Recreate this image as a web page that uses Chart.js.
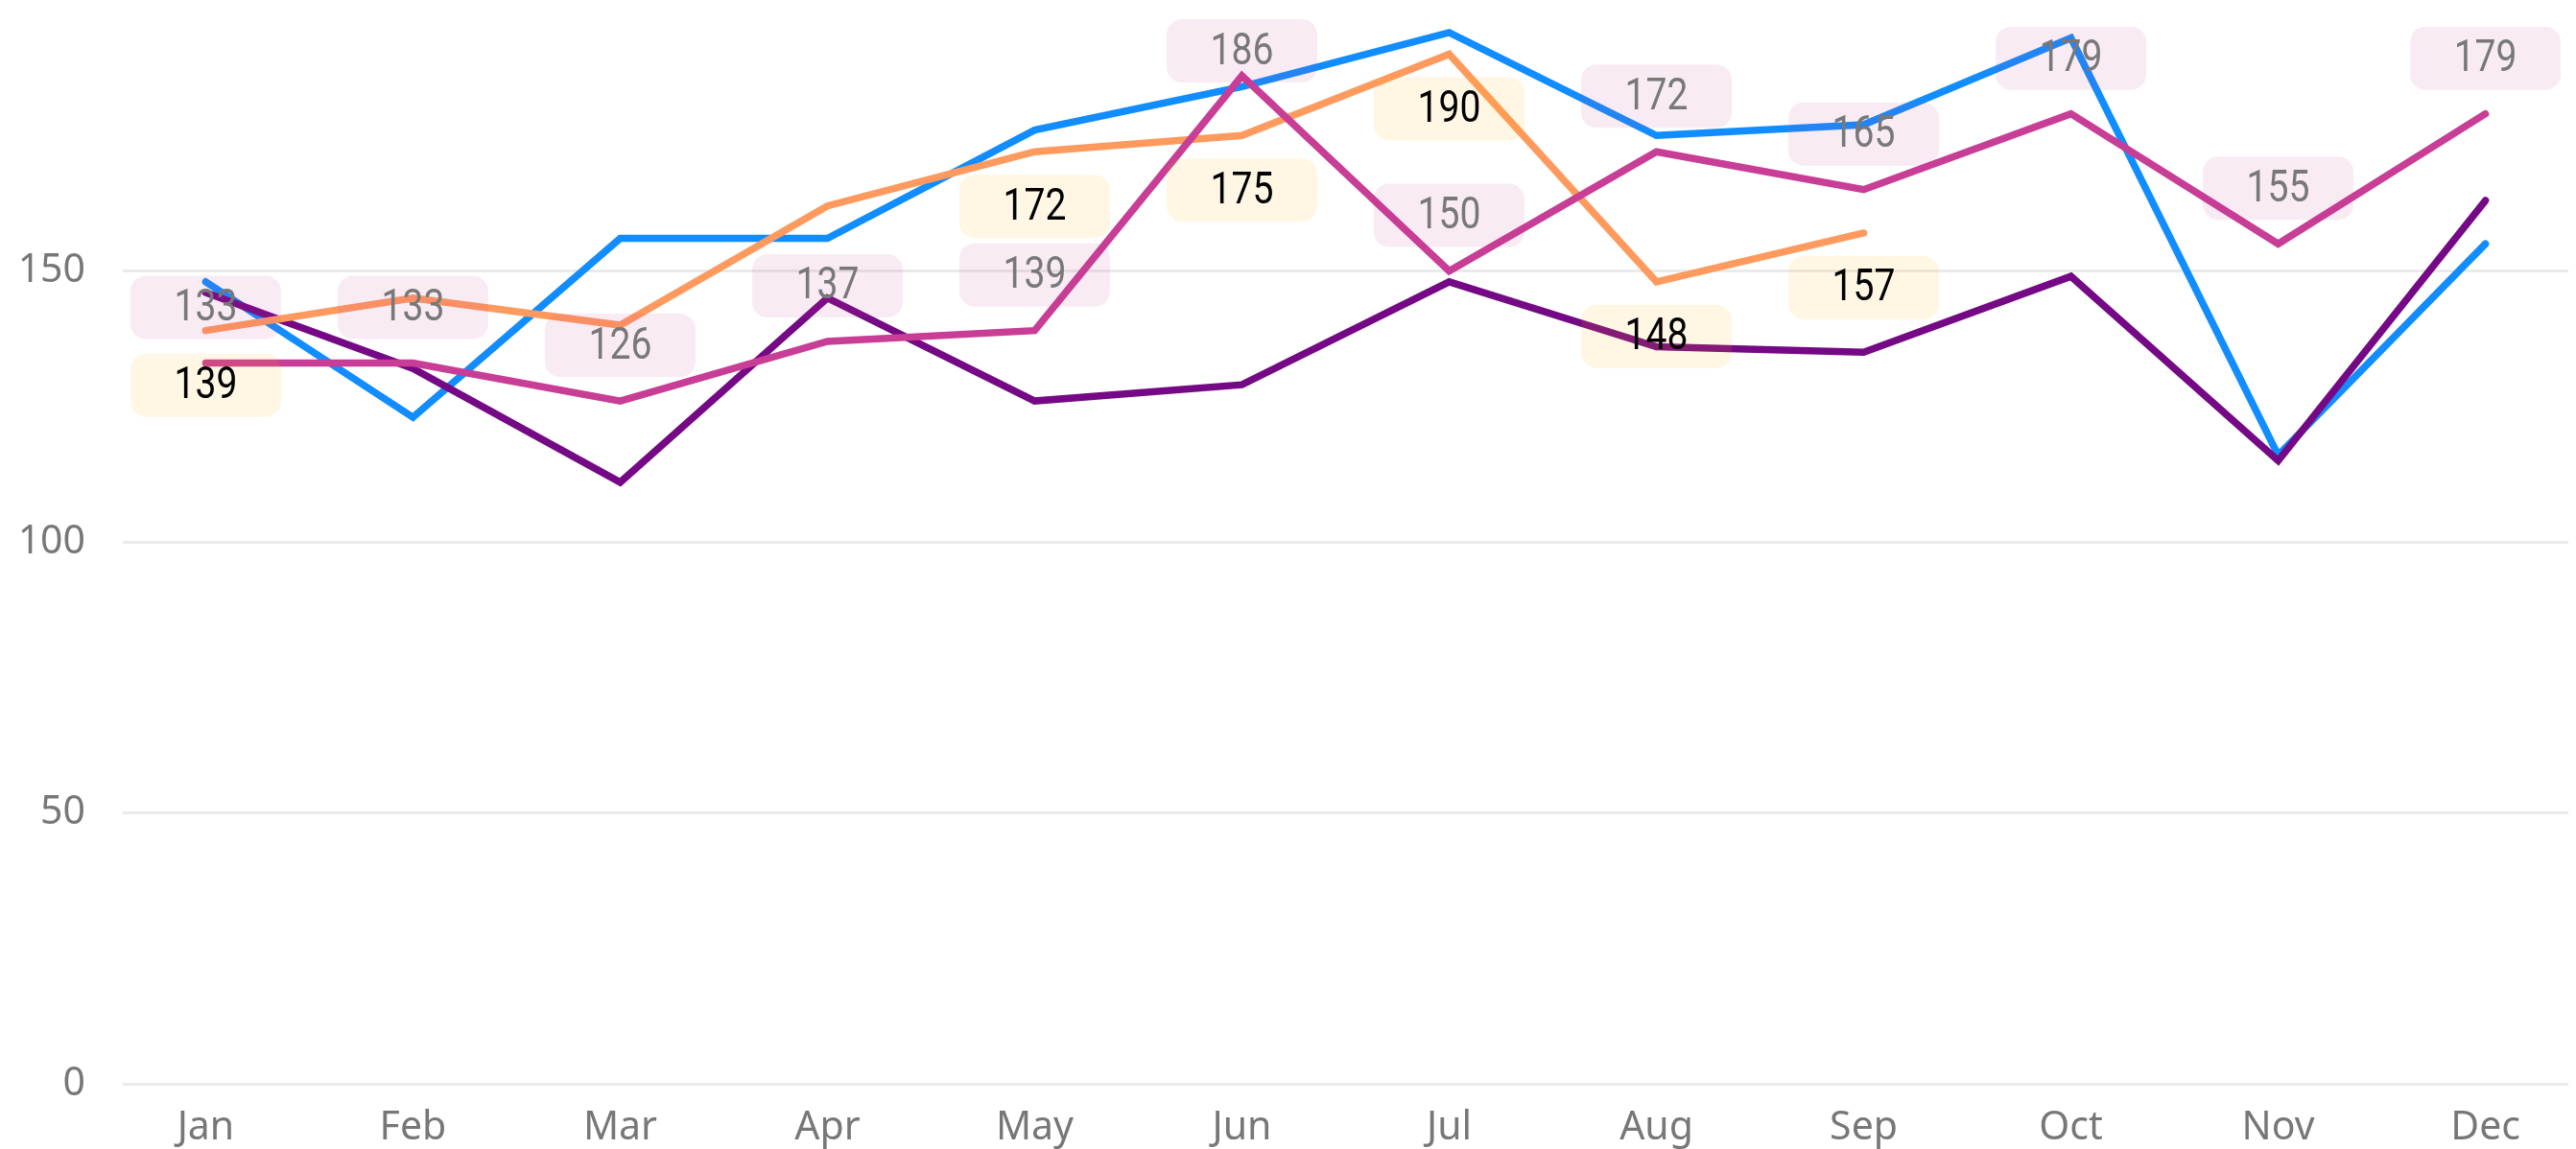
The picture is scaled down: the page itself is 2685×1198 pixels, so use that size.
<!DOCTYPE html>
<html>
<head>
<meta charset="utf-8">
<script src="https://cdn.jsdelivr.net/npm/chart.js@4.4.1/dist/chart.umd.min.js"></script>
<style>
  html, body { margin: 0; padding: 0; background: #fff; }
  #wrap { width: 2685px; height: 1198px; position: relative; }
</style>
</head>
<body>
<div id="wrap"><canvas id="myChart"></canvas></div>
<script>
var months = ['Jan', 'Feb', 'Mar', 'Apr', 'May', 'Jun', 'Jul', 'Aug', 'Sep', 'Oct', 'Nov', 'Dec'];
var seriesBlue    = [148, 123, 156, 156, 176, 184, 194, 175, 177, 193, 116, 155];
var seriesPurple  = [146, 132, 111, 145, 126, 129, 148, 136, 135, 149, 115, 163];
var seriesOrange  = [139, 145, 140, 162, 172, 175, 190, 148, 157, null, null, null];
var seriesMagenta = [133, 133, 126, 137, 139, 186, 150, 172, 165, 179, 155, 179];
// months where the orange series shows its value label
var orangeLabelMonths = ['Jan', 'May', 'Jun', 'Jul', 'Aug', 'Sep'];
var yTicks = [0, 50, 100, 150];

function toPoints(arr) {
  return arr.map(function (v, i) { return { x: i, y: v }; });
}

var axisFont = { family: "'Segoe UI', 'Noto Sans', sans-serif", size: 41 };
var labelFont = "46px Roboto, 'Noto Sans', sans-serif";

function lineSet(name, data, color, order) {
  return {
    label: name,
    data: toPoints(data),
    borderColor: color,
    backgroundColor: color,
    borderWidth: 7.5,
    borderCapStyle: 'round',
    borderJoinStyle: 'miter',
    pointRadius: 0,
    tension: 0,
    spanGaps: false,
    order: order
  };
}

var labelSets = [
  { ds: 2, values: seriesOrange, show: function (i) { return orangeLabelMonths.indexOf(months[i]) >= 0; },
    dy: 57, box: 'rgba(255,180,0,0.11)', text: '#000000' },
  { ds: 3, values: seriesMagenta, show: function () { return true; },
    dy: -58, box: 'rgba(200,61,149,0.10)', text: '#787878' }
];

var pointLabels = {
  id: 'pointLabels',
  afterDatasetsDraw: function (chart) {
    var ctx = chart.ctx;
    var w = 157, h = 66, r = 16;
    var items = [];
    labelSets.forEach(function (set) {
      var meta = chart.getDatasetMeta(set.ds);
      set.values.forEach(function (v, i) {
        if (v === null || !set.show(i)) return;
        var pt = meta.data[i];
        var cy = pt.y + set.dy;
        var top = Math.max(20, cy - h / 2);
        items.push({ x: pt.x, top: top, text: String(v), box: set.box, color: set.text });
      });
    });
    ctx.save();
    items.forEach(function (it) {
      ctx.fillStyle = it.box;
      ctx.beginPath();
      ctx.roundRect(it.x - w / 2, it.top, w, h, r);
      ctx.fill();
    });
    ctx.font = labelFont;
    ctx.textAlign = 'center';
    ctx.textBaseline = 'middle';
    items.forEach(function (it) {
      // narrow the digits a little, like the condensed label face
      ctx.save();
      ctx.translate(it.x, it.top + h / 2 + 2);
      ctx.scale(0.85, 1);
      ctx.fillStyle = it.color;
      ctx.fillText(it.text, 0, 0);
      ctx.restore();
    });
    ctx.restore();
  }
};

function noPad(scale) {
  scale.paddingTop = 0;
  scale.paddingBottom = 0;
  scale.paddingLeft = 0;
  scale.paddingRight = 0;
}

var ctx = document.getElementById('myChart').getContext('2d');
var myChart = new Chart(ctx, {
  type: 'line',
  data: {
    datasets: [
      lineSet('Series 1', seriesBlue, '#118DFF', 4),
      lineSet('Series 2', seriesPurple, '#750985', 3),
      lineSet('Series 3', seriesOrange, '#FF9A5F', 2),
      lineSet('Series 4', seriesMagenta, '#C83D95', 1)
    ]
  },
  options: {
    responsive: true,
    maintainAspectRatio: false,
    devicePixelRatio: 1,
    animation: false,
    layout: { padding: { left: 0, right: 8, top: 0, bottom: 0 } },
    plugins: { legend: { display: false }, tooltip: { enabled: false } },
    scales: {
      x: {
        type: 'linear',
        min: -0.4,
        max: 11.4,
        grid: { display: false, drawTicks: false },
        border: { display: false },
        afterBuildTicks: function (scale) {
          scale.ticks = months.map(function (m, i) { return { value: i }; });
        },
        afterFit: function (scale) { scale.height = 68; noPad(scale); },
        ticks: {
          autoSkip: false,
          maxRotation: 0,
          padding: 22,
          color: '#777777',
          font: axisFont,
          callback: function (v) { return months[v]; }
        }
      },
      y: {
        min: 0,
        max: 200,
        grid: { color: '#EAEAEA', lineWidth: 3, drawTicks: false },
        border: { display: false },
        afterBuildTicks: function (scale) {
          scale.ticks = yTicks.map(function (v) { return { value: v }; });
        },
        afterFit: function (scale) { scale.width = 128; noPad(scale); },
        ticks: {
          padding: 39,
          color: '#777777',
          font: axisFont
        }
      }
    }
  },
  plugins: [pointLabels]
});
</script>
</body>
</html>
